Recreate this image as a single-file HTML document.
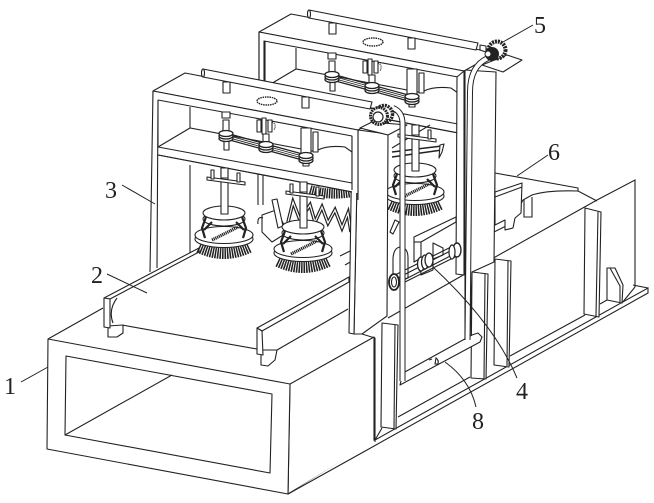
<!DOCTYPE html>
<html><head><meta charset="utf-8"><style>
html,body{margin:0;padding:0;background:#fff}
svg{display:block}
text{font-family:"Liberation Serif",serif;font-size:24px;fill:#222}
.l{fill:none;stroke:#222;stroke-width:1}
.w{fill:#fff;stroke:#222;stroke-width:1.1;stroke-linejoin:round}
.n{fill:none;stroke:#222;stroke-width:1.1}
</style></head><body>
<svg width="654" height="503" viewBox="0 0 654 503" xmlns="http://www.w3.org/2000/svg">
<defs>
<g id="brush">
 <path d="M-25,7 Q0,19 25,7" fill="none" stroke="#222" stroke-width="12" stroke-dasharray="1.5 .9"/>
 <ellipse cx="0" cy="-1" rx="29" ry="8.5" class="w"/>
 <ellipse cx="0" cy="-5" rx="29" ry="8.5" class="w"/>
 <ellipse cx="0" cy="-21" rx="21" ry="7" class="w"/>
 <ellipse cx="0" cy="-27" rx="21" ry="7" class="w"/>
 <path d="M-18,-23 L-22,-12 L-19,-2 M-12,-18 L-20,-10 M18,-23 L22,-12 L19,-2 M12,-18 L20,-10" fill="none" stroke="#222" stroke-width="2.2"/>
 <path d="M-12,0 L14,-13" fill="none" stroke="#222" stroke-width="3.2" stroke-dasharray="1.2 .7"/>
 <rect x="-3" y="-72" width="7" height="46" class="w"/>
 <path d="M-17,-63 L21,-58 L21,-55 L-17,-60Z" class="w"/>
 <rect x="-13" y="-70" width="3" height="9" class="w"/><rect x="13" y="-67" width="3" height="9" class="w"/>
 <rect x="-3" y="-72" width="7" height="10" class="w"/>
</g>
<g id="pulley">
 <ellipse cx="0" cy="2.5" rx="7" ry="3" fill="#fff" stroke="#222" stroke-width="1.3"/>
 <ellipse cx="0" cy="0" rx="7" ry="3" fill="#fff" stroke="#222" stroke-width="1.3"/>
 <ellipse cx="0" cy="-2.5" rx="7" ry="3" fill="#fff" stroke="#222" stroke-width="1.3"/>
</g>
<g id="frame">
 <polygon points="153,91 185,73 390,112 358,130" class="w"/>
 <polygon points="203,69 372,102 370,109 203,77" class="w"/>
 <ellipse cx="203" cy="73" rx="1.5" ry="4" class="w"/>
 <rect x="223" y="82" width="7" height="11" class="w"/>
 <rect x="302" y="97" width="7" height="11" class="w"/>
 <ellipse cx="267" cy="101" rx="10" ry="4" fill="#fff" stroke="#222" stroke-width="1.4" stroke-dasharray="1.5 .8"/>
 <polygon points="153,91 358,130 358,193 153,154" class="w"/>
 <polygon points="158,100 352,136 352,183 158,147" class="w"/>
 <path class="n" d="M190,107 V128 M158,147 L190,128 L317,152 M158,155 L352,192"/>
 <rect x="313" y="132" width="5" height="20" class="w"/>
 <path class="n" d="M318,150 Q328,145 345,147 L352,152"/>
 <rect x="223" y="120" width="6" height="14" class="w"/>
 <rect x="222" y="112" width="8" height="6" class="w"/>
 <rect x="224" y="136" width="5" height="14" class="w"/>
 <rect x="257" y="120" width="4" height="12" class="w"/><rect x="262" y="118" width="4" height="16" class="w"/><rect x="268" y="120" width="4" height="12" class="w"/>
 <path d="M272,122 q5,2 2,8" fill="none" stroke="#222" stroke-width="1.2" stroke-dasharray="1 1"/>
 <rect x="263" y="134" width="6" height="12" class="w"/>
 <rect x="301" y="128" width="10" height="26" class="w"/>
 <rect x="303" y="158" width="6" height="8" class="w"/>
 <path d="M226,133 L266,144 L306,155 M226,139 L266,150 L306,161" fill="none" stroke="#222" stroke-width="1.2"/>
 <path d="M226,135 L266,146 L306,157 M226,137 L266,148 L306,159" fill="none" stroke="#222" stroke-width=".9"/>
 <use href="#pulley" x="226" y="136"/>
 <use href="#pulley" x="266" y="147"/>
 <use href="#pulley" x="306" y="158"/>
</g>
</defs>
<rect width="654" height="503" fill="#fff"/>

<!-- right trough background -->
<path class="n" d="M388,318 L472,270 L597,200 L635,180 V287"/>
<!-- hopper 6 -->
<path class="w" d="M495,173 L578,188 L578,191 Q548,190 532,195 L523,200 L510,224 L494,232Z"/>
<path class="n" d="M578,191 L597,201"/>
<polygon points="495,192 522,183 521,213 515,218 513,228 505,230 505,220 495,225" class="w"/>
<path class="n" d="M495,197 L522,187"/>
<path class="n" d="M524,200 V217 H532 V197"/>

<!-- back frame -->
<polygon points="465,70 496,72 494,262 472,272 470,340 465,340" class="w"/>
<use href="#frame" transform="translate(106,-59)"/>
<polygon points="457,77 464,71 464,275 456,274" class="w"/>
<path class="n" d="M259,32 V120 M265,41 V110"/>

<!-- back brush -->
<path d="M392,152 L442,146 M392,157 L442,150" fill="none" stroke="#222" stroke-width="1.4"/>
<path class="w" d="M440,145 l4,-1 l-2,8 l-3,6 z"/>
<path class="n" d="M392,148 L430,125"/>
<g transform="translate(415,197)"><use href="#brush"/></g>

<!-- back-mid brush hidden bristles -->
<path d="M310,190 Q330,196 352,192" fill="none" stroke="#222" stroke-width="10" stroke-dasharray="1.5 .9"/>
<path class="n" d="M258,172 V205 M263,172 V205 M190,165 V255"/>

<!-- zigzag pleats -->
<g fill="none" stroke-linejoin="miter">
 <path d="M288,222 L293,202 L300,220 L310,205 L315,222 L322,207 L328,223 L335,210 L342,228 L348,213 L351,232" stroke="#222" stroke-width="3.6"/>
 <path d="M288,222 L293,202 L300,220 L310,205 L315,222 L322,207 L328,223 L335,210 L342,228 L348,213 L351,232" stroke="#fff" stroke-width="1.2"/>
</g>
<path class="w" d="M262,215 L276,210 L288,232 L272,242 L262,232Z"/>
<path class="w" d="M272,200 L277,199 L283,226 L278,228Z"/>
<path class="n" d="M258,224 Q257,216 263,218 M340,256 L352,250 M345,265 L352,261"/>

<!-- Base box -->
<polygon points="48,339 103,308 374,337 290,384" fill="#fff"/>
<path class="n" d="M48,339 L103,308"/>
<polygon points="290,384 374,337 374,442 288,494" class="w"/>
<polygon points="48,339 290,384 288,494 47,449" class="w"/>
<polygon points="66,356 272,394 270,473 65,435" class="w"/>
<path class="n" d="M65,435 L172,375"/>

<!-- floor of trough -->
<polygon points="375,440 648,288 648,293 367,450 288,494" fill="#fff"/>
<path class="n" d="M288,494 L367,450 L648,293 V288 L375,440 M648,288 L633,285 M398,417 L470,377 M510,356 L585,315 M600,304 L607,300 M622,303 L635,287"/>

<!-- trough plates -->
<path class="w" d="M607,268 L615,268 L623,285 L622,303 L607,300Z"/>
<path class="n" d="M610,268 L620,286 L620,302"/>
<polygon points="585,208 601,212 599,317 584,314" class="w"/>
<path d="M598,212 L596,316" class="n"/>
<polygon points="495,259 511,261 509,367 494,365" class="w"/>
<path class="n" d="M508,261 L507,366"/>
<polygon points="472,272 488,274 486,379 471,378" class="w"/>
<path class="n" d="M485,274 L484,379"/>

<!-- 8 pipe -->
<polygon points="403,373 472,335 478,333 482,337 480,342 400,385" class="w"/>
<path class="n" d="M429,360 l3,-1 M436,358 q3,2 2,6 h-3 z"/>
<polygon points="382,323 398,325 396,429 381,427" class="w"/>
<path class="n" d="M395,325 L394,429"/>
<path class="n" d="M354,334 H362 L375,338 V442 M382,428 L375,440"/>

<!-- interior 4 region -->
<path class="w" d="M395,220 L399,222 L393,234 L390,232Z"/>
<path class="w" d="M393,258 Q394,247 401,247 Q408,248 408,258 L408,278 L393,282Z"/>
<path class="w" d="M414,237 L456,217 V222 L421,242 V258 L414,262Z"/>
<path class="n" d="M414,242 L421,242"/>
<path class="w" d="M433,243 L443,248 L443,255 L433,259Z"/>
<path class="w" d="M420,258 L433,256 V270 L421,275Z"/>

<!-- front frame pillar side -->
<polygon points="358,130 388,134 387,316 362,334 354,334" class="w"/>
<polygon points="352,136 358,130 354,334 349,333" class="w"/>

<!-- belts 4 -->
<path d="M391,277 L455,245 M395,287 L459,255 M394,280 L456,248 M396,284 L458,252" fill="none" stroke="#222" stroke-width="1.1"/>
<ellipse cx="394" cy="282" rx="5" ry="8" fill="#fff" stroke="#222" stroke-width="1.8"/><ellipse cx="394" cy="282" rx="2.5" ry="5" class="w"/>
<ellipse cx="457" cy="250" rx="4" ry="7" fill="#fff" stroke="#222" stroke-width="1.4"/>
<ellipse cx="452" cy="252" rx="3" ry="7" fill="#fff" stroke="#222" stroke-width="1.2"/>
<ellipse cx="421" cy="264" rx="3.5" ry="7" fill="#fff" stroke="#222" stroke-width="1.3"/>
<ellipse cx="425" cy="262" rx="3.5" ry="7" fill="#fff" stroke="#222" stroke-width="1.3"/>
<ellipse cx="429" cy="260" rx="4" ry="7" fill="#fff" stroke="#222" stroke-width="1.3"/>

<!-- back pipe -->
<path d="M488,58 Q470,66 470,92 L467.5,340" fill="none" stroke="#222" stroke-width="6"/>
<path d="M488,58 Q470,66 470,92 L467.5,340" fill="none" stroke="#fff" stroke-width="4"/>
<polygon points="482,65 507,55 522,60 503,72" class="w"/>
<circle cx="497" cy="50" r="8.5" fill="#fff" stroke="#222" stroke-width="4" stroke-dasharray="2 .9"/>
<circle cx="492" cy="54" r="7" fill="#222"/>
<circle cx="488" cy="54" r="3" fill="#fff" stroke="#222" stroke-width="1"/>
<path d="M480,45 L486,46 V52 L480,50Z" class="w"/>

<!-- front frame -->
<use href="#frame"/>
<polygon points="352,136 358,130 358,193 352,193" fill="#fff"/>
<path class="n" d="M352,136 V190 M358,130 V200"/>
<polygon points="153,92 158,100 157,268 151,272" fill="#fff"/>
<path class="n" d="M153,91 L150,272 M158,100 L157,268"/>

<!-- front platform & motor -->
<polygon points="360,128 372,122 407,125 388,135" class="w"/>
<path d="M393,108 Q403,112 402.5,125 V381" fill="none" stroke="#222" stroke-width="6"/>
<path d="M393,108 Q403,112 402.5,125 V381" fill="none" stroke="#fff" stroke-width="4"/>
<circle cx="384" cy="114" r="8.5" fill="#fff" stroke="#222" stroke-width="3.5" stroke-dasharray="2 .9"/>
<circle cx="379" cy="116" r="8.5" fill="#fff" stroke="#222" stroke-width="3" stroke-dasharray="1.8 .8"/>
<circle cx="378" cy="117" r="5" fill="#fff" stroke="#222" stroke-width="1.2"/>

<!-- conveyor -->
<path d="M115,298 L199,250 L349,280 V300 L263,350 L122,325 L115,325 Q108,310 115,298Z" fill="#fff"/>
<path class="n" d="M122,325 L257,349 M117,298 Q108,310 113,323"/>
<polygon points="104,298 110,299 199,252 199,248" class="w"/>
<polygon points="108,326 123,325 123,333 117,337 108,337" class="w"/>
<polygon points="104,298 110,299 110,328 104,327" class="w"/>
<polygon points="257,328 349,277 349,282 262,331" class="w"/>
<polygon points="261,350 277,350 275,360 268,366 261,365" class="w"/>
<polygon points="257,328 262,331 263,355 257,354" class="w"/>
<path class="n" d="M277,350 L348,309"/>

<!-- front brushes -->
<g transform="translate(224,240)"><use href="#brush"/></g>
<g transform="translate(303,254)"><use href="#brush"/></g>

<!-- leader lines -->
<g class="l">
 <path d="M21,382 L48,367"/>
 <path d="M107,274 L147,293"/>
 <path d="M122,185 L155,204"/>
 <path d="M433,267 Q495,325 517,378"/>
 <path d="M445,362 Q470,380 476,407"/>
 <path d="M503,42 L533,25"/>
 <path d="M517,176 L548,155"/>
</g>
<text x="4" y="394">1</text>
<text x="91" y="283">2</text>
<text x="105" y="198">3</text>
<text x="516" y="399">4</text>
<text x="534" y="33">5</text>
<text x="548" y="160">6</text>
<text x="472" y="429">8</text>
</svg>
</body></html>
